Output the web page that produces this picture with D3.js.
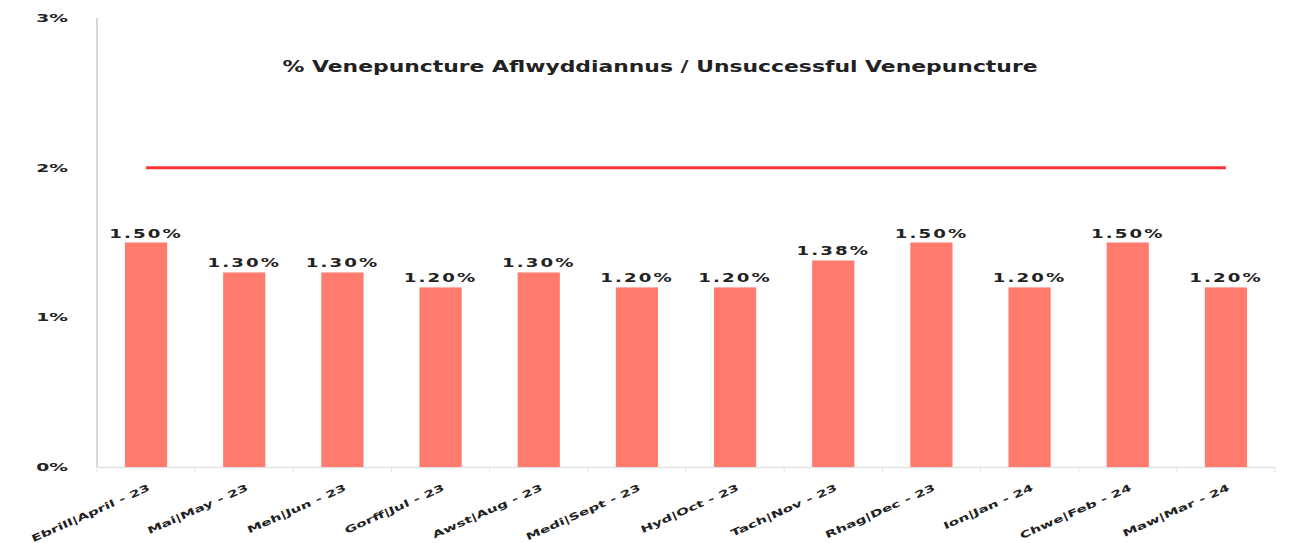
<!DOCTYPE html>
<html>
<head>
<meta charset="utf-8">
<script src="https://cdn.jsdelivr.net/npm/d3@7"></script>
<style>
  body { margin: 0; background: #fff; }
  svg { display: block; font-family: "DejaVu Sans", Verdana, sans-serif; }
</style>
</head>
<body>
<svg id="chart" width="1290" height="543"></svg>
<script>
// data
var months = ['Ebrill|April - 23', 'Mai|May - 23', 'Meh|Jun - 23', 'Gorff|Jul - 23',
  'Awst|Aug - 23', 'Medi|Sept - 23', 'Hyd|Oct - 23', 'Tach|Nov - 23',
  'Rhag|Dec - 23', 'Ion|Jan - 24', 'Chwe|Feb - 24', 'Maw|Mar - 24'];
var unsuccessful = [1.50, 1.30, 1.30, 1.20, 1.30, 1.20, 1.20, 1.38, 1.50, 1.20, 1.50, 1.20];
var target = [2, 2, 2, 2, 2, 2, 2, 2, 2, 2, 2, 2];
var yTicks = [0, 1, 2, 3];
var title = '% Venepuncture Aflwyddiannus / Unsuccessful Venepuncture';

(function() {
  var svg = d3.select('#chart'),
    plotLeft = 97,
    plotRight = 1275,
    plotTop = 18,
    plotBottom = 467;

  var x = d3.scaleBand()
    .domain(months)
    .range([plotLeft, plotRight])
    .paddingInner(0.57)
    .paddingOuter(0.285);

  var step = x.step();

  var y = d3.scaleLinear()
    .domain([0, 3])
    .range([plotBottom, plotTop]);

  // y axis line
  svg.append('line')
    .attr('x1', plotLeft).attr('x2', plotLeft)
    .attr('y1', plotTop).attr('y2', plotBottom)
    .attr('stroke', '#d9d9d9')
    .attr('stroke-width', 2);

  // y tick labels
  svg.selectAll('.ytick')
    .data(yTicks)
    .enter()
    .append('text')
    .attr('class', 'ytick')
    .attr('transform', function(d) { return 'translate(68,' + y(d) + ') scale(1.7,1)'; })
    .attr('dy', '0.35em')
    .attr('text-anchor', 'end')
    .attr('font-size', 11)
    .attr('font-weight', 'bold')
    .attr('fill', '#222')
    .text(function(d) { return d + '%'; });

  // x axis baseline + ticks
  svg.append('g')
    .attr('transform', 'translate(0,' + plotBottom + ')')
    .call(d3.axisBottom(x).tickSize(0).tickFormat(''))
    .call(function(g) {
      g.select('.domain').attr('stroke', '#e3e3e3').attr('stroke-width', 1.5);
    });

  svg.append('g').selectAll('line')
    .data(d3.range(months.length + 1))
    .enter()
    .append('line')
    .attr('x1', function(i) { return plotLeft + i * step; })
    .attr('x2', function(i) { return plotLeft + i * step; })
    .attr('y1', plotBottom)
    .attr('y2', plotBottom + 5)
    .attr('stroke', '#e3e3e3');

  // bars
  svg.selectAll('rect.bar')
    .data(unsuccessful)
    .enter()
    .append('rect')
    .attr('class', 'bar')
    .attr('x', function(d, i) { return x(months[i]); })
    .attr('width', x.bandwidth())
    .attr('y', function(d) { return y(d); })
    .attr('height', function(d) { return plotBottom - y(d); })
    .style('fill', '#ff7b6e');

  // data labels
  svg.selectAll('text.val')
    .data(unsuccessful)
    .enter()
    .append('text')
    .attr('class', 'val')
    .attr('transform', function(d, i) {
      return 'translate(' + (x(months[i]) + x.bandwidth() / 2) + ',' + (y(d) - 5) + ') scale(1.4,1)';
    })
    .attr('text-anchor', 'middle')
    .attr('font-size', 13)
    .attr('font-weight', 'bold')
    .attr('letter-spacing', 1.5)
    .attr('fill', '#222')
    .text(function(d) { return d.toFixed(2) + '%'; });

  // target line
  var line = d3.line()
    .x(function(d, i) { return x(months[i]) + x.bandwidth() / 2; })
    .y(function(d) { return y(d); });

  svg.append('path')
    .datum(target)
    .attr('d', line)
    .attr('fill', 'none')
    .attr('stroke', '#ff3333')
    .attr('stroke-width', 3);

  // month labels
  svg.selectAll('text.month')
    .data(months)
    .enter()
    .append('text')
    .attr('class', 'month')
    .attr('transform', function(d) {
      return 'translate(' + (x(d) + x.bandwidth() / 2 + 3) + ',487) rotate(-24) scale(1.6,1)';
    })
    .attr('text-anchor', 'end')
    .attr('dy', '0.35em')
    .attr('font-size', 9.5)
    .attr('font-weight', 'bold')
    .attr('fill', '#222')
    .text(function(d) { return d; });

  // title
  svg.append('text')
    .attr('x', 660)
    .attr('y', 72)
    .attr('text-anchor', 'middle')
    .attr('font-size', 15)
    .attr('font-weight', 'bold')
    .attr('textLength', 755)
    .attr('lengthAdjust', 'spacingAndGlyphs')
    .attr('fill', '#222')
    .text(title);
})();
</script>
</body>
</html>
